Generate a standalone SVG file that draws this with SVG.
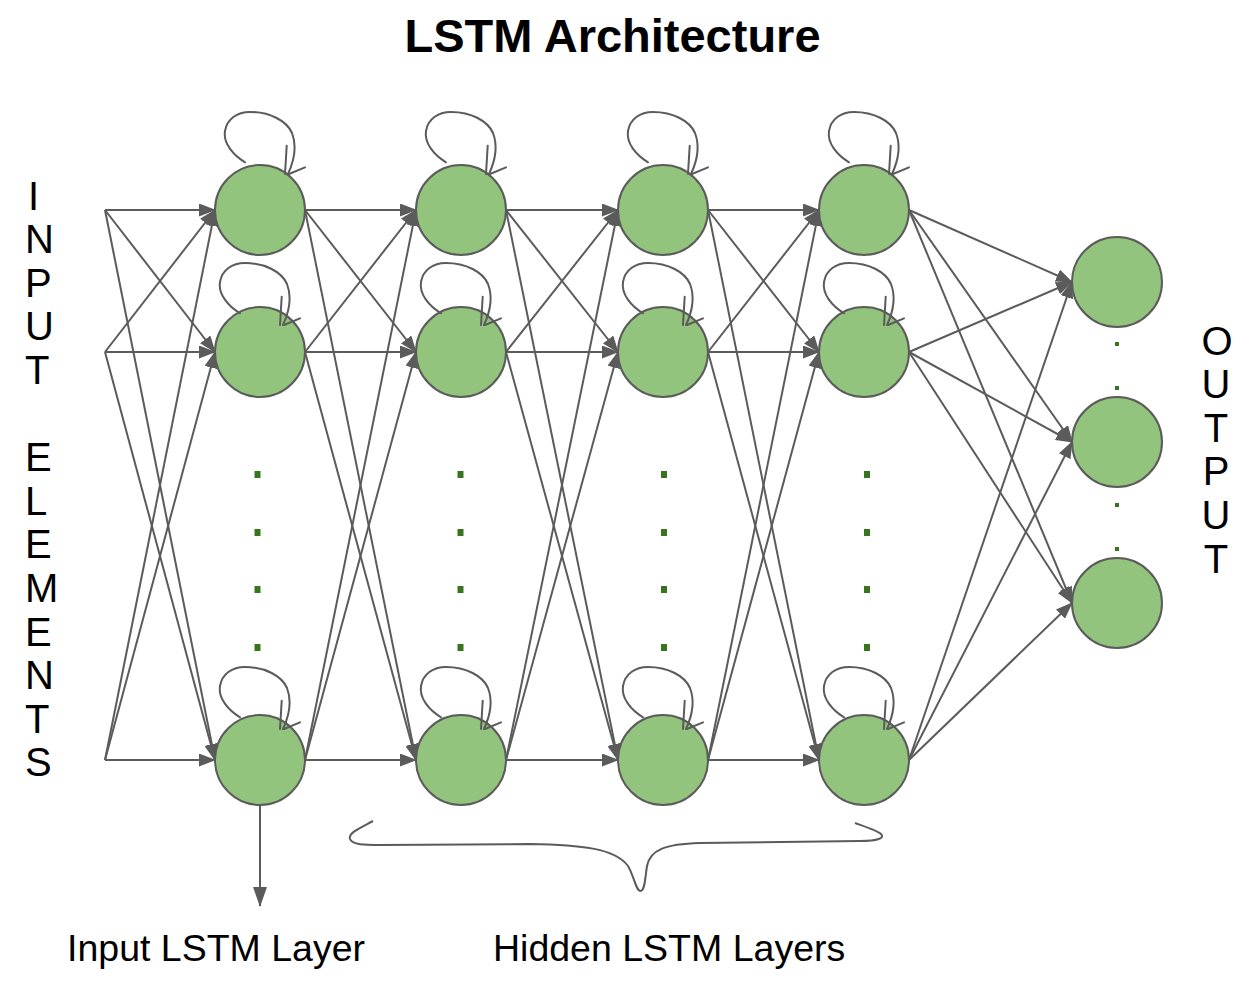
<svg xmlns="http://www.w3.org/2000/svg" xmlns:xlink="http://www.w3.org/1999/xlink" width="1252" height="998" viewBox="0 0 1252 998">
<style>
.edge{stroke:#5b5b5b;stroke-width:2;fill:none;marker-end:url(#arr)}
.node{fill:#93c47d;stroke:#5b5b5b;stroke-width:2}
.loop{stroke:#5b5b5b;stroke-width:2;fill:none;stroke-linecap:round}
.dot{fill:#38761d}
.odot{fill:#38761d}
.lbl{font-family:"Liberation Sans",Arial,sans-serif;fill:#000}
</style>
<defs>
<marker id="arr" markerUnits="userSpaceOnUse" markerWidth="17" markerHeight="13" refX="16" refY="6.5" orient="auto">
<path d="M0,0 L17,6.5 L0,13 z" fill="#5b5b5b"/>
</marker>
<marker id="arrBig" markerUnits="userSpaceOnUse" markerWidth="20" markerHeight="14" refX="19" refY="7" orient="auto">
<path d="M0,0 L20,7 L0,14 z" fill="#5b5b5b"/>
</marker>
<g id="selfloop" class="loop">
<path d="M-20,-38.7 C-32,-46 -42,-58 -40,-70 C-38,-82 -28,-89 -15,-89 C5,-89 22,-80 27,-68 C32,-55 29,-40 23,-27"/>
<path d="M21.7,-55.3 L20,-27 M24,-27 L40,-33.7"/>
</g>
</defs>
<rect width="1252" height="998" fill="#ffffff"/>
<text class="lbl" x="612.5" y="52" font-size="47" font-weight="bold" text-anchor="middle">LSTM Architecture</text>

<g id="connectors">
<path class="edge" d="M105,210 L215,210"/>
<path class="edge" d="M105,210 L215,352"/>
<path class="edge" d="M105,210 L215,760"/>
<path class="edge" d="M105,352 L215,210"/>
<path class="edge" d="M105,352 L215,352"/>
<path class="edge" d="M105,352 L215,760"/>
<path class="edge" d="M105,760 L215,210"/>
<path class="edge" d="M105,760 L215,352"/>
<path class="edge" d="M105,760 L215,760"/>

<path class="edge" d="M305,210 L416,210"/>
<path class="edge" d="M305,210 L416,352"/>
<path class="edge" d="M305,210 L416,760"/>
<path class="edge" d="M305,352 L416,210"/>
<path class="edge" d="M305,352 L416,352"/>
<path class="edge" d="M305,352 L416,760"/>
<path class="edge" d="M305,760 L416,210"/>
<path class="edge" d="M305,760 L416,352"/>
<path class="edge" d="M305,760 L416,760"/>

<path class="edge" d="M506,210 L618,210"/>
<path class="edge" d="M506,210 L618,352"/>
<path class="edge" d="M506,210 L618,760"/>
<path class="edge" d="M506,352 L618,210"/>
<path class="edge" d="M506,352 L618,352"/>
<path class="edge" d="M506,352 L618,760"/>
<path class="edge" d="M506,760 L618,210"/>
<path class="edge" d="M506,760 L618,352"/>
<path class="edge" d="M506,760 L618,760"/>

<path class="edge" d="M708,210 L819,210"/>
<path class="edge" d="M708,210 L819,352"/>
<path class="edge" d="M708,210 L819,760"/>
<path class="edge" d="M708,352 L819,210"/>
<path class="edge" d="M708,352 L819,352"/>
<path class="edge" d="M708,352 L819,760"/>
<path class="edge" d="M708,760 L819,210"/>
<path class="edge" d="M708,760 L819,352"/>
<path class="edge" d="M708,760 L819,760"/>

<path class="edge" d="M909,210 L1072,282"/>
<path class="edge" d="M909,210 L1072,442"/>
<path class="edge" d="M909,210 L1072,603"/>
<path class="edge" d="M909,352 L1072,282"/>
<path class="edge" d="M909,352 L1072,442"/>
<path class="edge" d="M909,352 L1072,603"/>
<path class="edge" d="M909,760 L1072,282"/>
<path class="edge" d="M909,760 L1072,442"/>
<path class="edge" d="M909,760 L1072,603"/>

<path d="M260,805 L260,906" stroke="#5b5b5b" stroke-width="2" fill="none" marker-end="url(#arrBig)"/>
</g>

<g id="n-1-1"><circle class="node" cx="260" cy="210" r="45"/><use xlink:href="#selfloop" transform="translate(265,201)"/></g>
<g id="n-1-2"><circle class="node" cx="260" cy="352" r="45"/><use xlink:href="#selfloop" transform="translate(260,352)"/></g>
<g id="n-1-3"><circle class="node" cx="260" cy="760" r="45"/><use xlink:href="#selfloop" transform="translate(260,756)"/></g>
<g id="n-2-1"><circle class="node" cx="461" cy="210" r="45"/><use xlink:href="#selfloop" transform="translate(466,201)"/></g>
<g id="n-2-2"><circle class="node" cx="461" cy="352" r="45"/><use xlink:href="#selfloop" transform="translate(461,352)"/></g>
<g id="n-2-3"><circle class="node" cx="461" cy="760" r="45"/><use xlink:href="#selfloop" transform="translate(461,756)"/></g>
<g id="n-3-1"><circle class="node" cx="663" cy="210" r="45"/><use xlink:href="#selfloop" transform="translate(668,201)"/></g>
<g id="n-3-2"><circle class="node" cx="663" cy="352" r="45"/><use xlink:href="#selfloop" transform="translate(663,352)"/></g>
<g id="n-3-3"><circle class="node" cx="663" cy="760" r="45"/><use xlink:href="#selfloop" transform="translate(663,756)"/></g>
<g id="n-4-1"><circle class="node" cx="864" cy="210" r="45"/><use xlink:href="#selfloop" transform="translate(869,201)"/></g>
<g id="n-4-2"><circle class="node" cx="864" cy="352" r="45"/><use xlink:href="#selfloop" transform="translate(864,352)"/></g>
<g id="n-4-3"><circle class="node" cx="864" cy="760" r="45"/><use xlink:href="#selfloop" transform="translate(864,756)"/></g>

<g id="out-1"><circle class="node" cx="1117" cy="282" r="45"/></g>
<g id="out-2"><circle class="node" cx="1117" cy="442" r="45"/></g>
<g id="out-3"><circle class="node" cx="1117" cy="603" r="45"/></g>

<g id="dots">
<rect class="dot" x="254.5" y="471" width="6" height="7"/>
<rect class="dot" x="254.5" y="529" width="6" height="7"/>
<rect class="dot" x="254.5" y="586" width="6" height="7"/>
<rect class="dot" x="254.5" y="644" width="6" height="7"/>
<rect class="dot" x="457.5" y="471" width="6" height="7"/>
<rect class="dot" x="457.5" y="529" width="6" height="7"/>
<rect class="dot" x="457.5" y="586" width="6" height="7"/>
<rect class="dot" x="457.5" y="644" width="6" height="7"/>
<rect class="dot" x="661" y="471" width="6" height="7"/>
<rect class="dot" x="661" y="529" width="6" height="7"/>
<rect class="dot" x="661" y="586" width="6" height="7"/>
<rect class="dot" x="661" y="644" width="6" height="7"/>
<rect class="dot" x="864" y="471" width="6" height="7"/>
<rect class="dot" x="864" y="529" width="6" height="7"/>
<rect class="dot" x="864" y="586" width="6" height="7"/>
<rect class="dot" x="864" y="644" width="6" height="7"/>
<rect class="odot" x="1115" y="342" width="4" height="4"/>
<rect class="odot" x="1115" y="386" width="4" height="4"/>
<rect class="odot" x="1115" y="503" width="4" height="4"/>
<rect class="odot" x="1115" y="547" width="4" height="4"/>
</g>

<g id="brace">
<path d="M373,821 C360,828 348,833 350,839 C352,845 365,845 380,845 L530,844 C580,845 615,848 628,866 C634,876 636,891 640.5,891 C645,891 645,878 647,866 C650,850 665,844 700,843 L860,841 C878,841 885,838 881,834 C878,831 866,827 855,823" stroke="#5b5b5b" stroke-width="2" fill="none"/>
</g>

<g id="input-label" class="lbl" font-size="40">
<text x="28" y="209.5">I</text>
<text x="25" y="253.1">N</text>
<text x="25" y="296.7">P</text>
<text x="25" y="340.3">U</text>
<text x="25" y="383.9">T</text>
<text x="25" y="471.1">E</text>
<text x="25" y="514.7">L</text>
<text x="25" y="558.3">E</text>
<text x="25" y="601.9">M</text>
<text x="25" y="645.5">E</text>
<text x="25" y="689.1">N</text>
<text x="25" y="732.7">T</text>
<text x="25" y="776.3">S</text>
</g>

<g id="output-label" class="lbl" font-size="40" text-anchor="middle">
<text x="1217" y="354.5">O</text>
<text x="1216" y="398.1">U</text>
<text x="1216" y="441.7">T</text>
<text x="1216" y="485.3">P</text>
<text x="1216" y="528.9">U</text>
<text x="1216" y="572.5">T</text>
</g>

<text class="lbl" x="67" y="961" font-size="37.5">Input LSTM Layer</text>
<text class="lbl" x="493" y="961" font-size="37.5">Hidden LSTM Layers</text>
</svg>
